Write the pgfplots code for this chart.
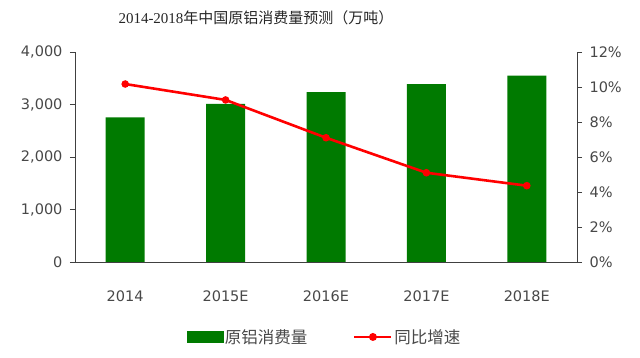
\documentclass[border=0pt]{standalone}
\usepackage{pgfplots}
\pgfplotsset{compat=1.18}
\usepackage{fontspec}
\setmainfont{DejaVu Sans}
\newfontfamily\cjk{Noto Sans CJK SC}
\newfontfamily\serifdig{Liberation Serif}
\definecolor{bargreen}{RGB}{0,122,0}
\definecolor{txtgray}{RGB}{72,72,72}
\definecolor{axgray}{RGB}{64,64,64}
\begin{document}
\begin{tikzpicture}[x=1pt,y=1pt]
\path[use as bounding box] (0,0) rectangle (640,358);
\node[text=black!85, font=\fontsize{15}{18}\selectfont] at (256,340) {{\serifdig 2014-2018}{\cjk 年中国原铝消费量预测（万吨）}};
\begin{axis}[
  at={(75pt,96pt)}, anchor=south west,
  scale only axis, width=502pt, height=210pt,
  xmin=-0.5, xmax=4.5, ymin=0, ymax=4000,
  axis y line*=left, axis x line*=bottom,
  axis line style={axgray, line width=0.8pt},
  xtick={0,1,2,3,4},
  xticklabels={2014,2015E,2016E,2017E,2018E},
  ytick={0,1000,2000,3000,4000},
  major x tick style={draw=none},
  major y tick style={axgray, line width=0.6pt},
  tick align=outside, major tick length=5pt,
  /pgf/number format/assume math mode=true,
  /pgf/number format/1000 sep={,},
  tick label style={text=txtgray, font=\fontsize{14.5}{17}\selectfont},
  xticklabel style={yshift=-20pt},
  yticklabel style={xshift=-4pt},
  clip=false,
]
\addplot[ybar, bar width=39pt, fill=bargreen, draw=none] coordinates {
  (0,2756) (1,3010) (2,3238) (3,3390) (4,3549)
};
\end{axis}
\begin{axis}[
  at={(75pt,96pt)}, anchor=south west,
  scale only axis, width=502pt, height=210pt,
  xmin=-0.5, xmax=4.5, ymin=0, ymax=12,
  axis y line*=right, axis x line=none,
  axis line style={axgray, line width=0.8pt},
  ytick={0,2,4,6,8,10,12},
  yticklabel={\pgfmathprintnumber{\tick}\%},
  major y tick style={axgray, line width=0.6pt},
  tick align=outside, major tick length=5pt,
  /pgf/number format/assume math mode=true,
  tick label style={text=txtgray, font=\fontsize{14.5}{17}\selectfont},
  yticklabel style={xshift=4pt},
  clip=false,
  legend columns=2,
  legend style={at={(0.497,-0.357)}, anchor=center, draw=none, fill=none,
    font=\cjk\fontsize{16.5}{19}\selectfont, text=txtgray,
    /tikz/every even column/.append style={column sep=44pt},
    inner sep=0pt},
]
\addlegendimage{legend image code/.code={\fill[bargreen] (0pt,-5.5pt) rectangle (36pt,5.5pt);}}
\addlegendentry{原铝消费量}
\addplot[red, line width=2.6pt, mark=*, mark size=2.4pt,
  legend image code/.code={\draw[red, line width=2pt] (0pt,0pt) -- (37pt,0pt); \fill[red] (18.5pt,0pt) circle (2.6pt);}]
  coordinates {(0,10.17) (1,9.26) (2,7.1) (3,5.1) (4,4.36)};
\addlegendentry{同比增速}
\end{axis}
\end{tikzpicture}
\end{document}
